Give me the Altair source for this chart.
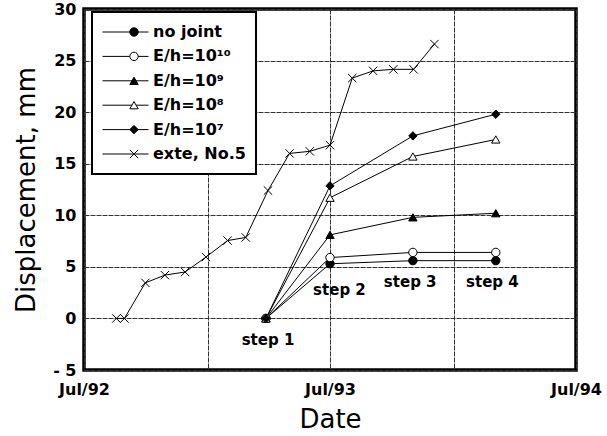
import altair as alt
import pandas as pd

# ---------------- data ----------------
series_names = ["no  joint", "E/h=10¹⁰", "E/h=10⁹", "E/h=10⁸", "E/h=10⁷", "exte, No.5"]
series_shapes = ["circle", "circle", "triangle-up", "triangle-up", "diamond",
                 "M-1,-1L1,1M-1,1L1,-1"]
series_fills = ["black", "white", "black", "white", "black", "black"]
series_sizes = [70, 70, 55, 55, 45, 90]

model_dates = ["1993-03-28", "1993-07-01", "1993-11-01", "1994-03-04"]
no_joint = [0, 5.3, 5.6, 5.6]
eh_1e10 = [0, 5.9, 6.4, 6.4]
eh_1e9 = [0, 8.1, 9.8, 10.2]
eh_1e8 = [0, 11.7, 15.7, 17.35]
eh_1e7 = [0, 12.85, 17.7, 19.8]

exte_dates = ["1992-08-18", "1992-08-30", "1992-09-30", "1992-10-29", "1992-11-28",
              "1992-12-29", "1993-01-30", "1993-02-26", "1993-03-31", "1993-05-02",
              "1993-06-01", "1993-07-01", "1993-08-03", "1993-09-03", "1993-10-03",
              "1993-11-02", "1993-12-03"]
exte_values = [0, 0, 3.45, 4.2, 4.5, 5.95, 7.55, 7.85, 12.4, 16.0, 16.2, 16.8,
               23.3, 24.0, 24.15, 24.15, 26.6]

step_labels = ["step  1", "step  2", "step  3", "step  4"]
step_label_dates = ["1993-03-31", "1993-07-15", "1993-10-28", "1994-02-27"]
step_label_values = [-2.1, 2.8, 3.55, 3.55]

y_ticks = [-5, 0, 5, 10, 15, 20, 25, 30]

# separate keys (same names) so that line legend, marker legend and size scale
# are not merged together by Vega-Lite
line_keys = [n + " " for n in series_names]
size_keys = [n + "  " for n in series_names]

# ---------------- tables ----------------
rows = []
all_vals = [no_joint, eh_1e10, eh_1e9, eh_1e8, eh_1e7]
for i, vals in enumerate(all_vals):
    for d, v in zip(model_dates, vals):
        rows.append({"series": series_names[i], "line_series": line_keys[i],
                     "size_key": size_keys[i], "date": d, "value": v})
for d, v in zip(exte_dates, exte_values):
    rows.append({"series": series_names[5], "line_series": line_keys[5],
                 "size_key": size_keys[5], "date": d, "value": v})
df = pd.DataFrame(rows)
df_steps = pd.DataFrame({"label": step_labels, "date": step_label_dates,
                         "value": step_label_values})

FONT = "DejaVu Sans"

x_enc = alt.X("date:T",
              scale=alt.Scale(type="utc",
                              domain=[alt.DateTime(year=1992, month=7, date=1, utc=True),
                                      alt.DateTime(year=1994, month=7, date=1, utc=True)]),
              axis=alt.Axis(
                  title="Date",
                  values=[alt.DateTime(year=1992, month=7, date=1, utc=True),
                          alt.DateTime(year=1993, month=1, date=1, utc=True),
                          alt.DateTime(year=1993, month=7, date=1, utc=True),
                          alt.DateTime(year=1994, month=1, date=1, utc=True),
                          alt.DateTime(year=1994, month=7, date=1, utc=True)],
                  labelExpr="utcmonth(datum.value) == 6 ? utcFormat(datum.value, '%b/%y') : ''",
                  labelFlush=False, labelOverlap=False, labelPadding=11,
                  titlePadding=9))
y_enc = alt.Y("value:Q",
              scale=alt.Scale(domain=[-5, 30], nice=False, zero=False),
              axis=alt.Axis(title="Displacement, mm", values=y_ticks,
                            labelExpr="datum.value < 0 ? '- ' + abs(datum.value) : datum.value",
                            labelPadding=8, titlePadding=13))

common_legend = dict(orient="none", title=None, clipHeight=20, rowPadding=4.4,
                     padding=10, labelFont=FONT, labelFontSize=16, labelFontWeight="bold")

lines = alt.Chart(df).mark_line(strokeWidth=1).encode(
    x=x_enc, y=y_enc,
    color=alt.Color("line_series:N",
                    scale=alt.Scale(domain=line_keys, range=["black"] * 6),
                    legend=alt.Legend(symbolType="stroke", symbolSize=2116,
                                      symbolStrokeWidth=1, symbolStrokeColor="black",
                                      legendX=8, legendY=3, strokeColor="black",
                                      fillColor="white", zindex=0,
                                      labelColor="transparent", **common_legend)),
    order=alt.Order("date:T"),
)

pt_legend = alt.Legend(legendX=32, legendY=3, symbolSize=70, symbolStrokeColor="black",
                       symbolStrokeWidth=1, labelOffset=11, zindex=1,
                       labelColor="black", **common_legend)
points = alt.Chart(df).mark_point(filled=True, strokeWidth=1, opacity=1).encode(
    x=x_enc, y=y_enc,
    shape=alt.Shape("series:N", scale=alt.Scale(domain=series_names, range=series_shapes),
                    legend=pt_legend),
    fill=alt.Fill("series:N", scale=alt.Scale(domain=series_names, range=series_fills),
                  legend=pt_legend),
    stroke=alt.Stroke("series:N", scale=alt.Scale(domain=series_names, range=["black"] * 6),
                      legend=pt_legend),
    size=alt.Size("size_key:N", scale=alt.Scale(domain=size_keys, range=series_sizes),
                  legend=None),
)

steps = alt.Chart(df_steps).mark_text(font=FONT, fontSize=15, fontWeight="bold",
                                      color="black").encode(
    x="date:T", y="value:Q", text="label:N")

chart = alt.layer(lines, points, steps).properties(
    width=492, height=361,
    autosize=alt.AutoSizeParams(type="none"),
    padding={"left": 84, "top": 9, "right": 31, "bottom": 66},
    background="white",
).configure_view(
    stroke="black", strokeWidth=3.5
).configure_axis(
    grid=True, gridColor="#333", gridDash=[5, 1], gridWidth=1, gridOpacity=1,
    ticks=False, domain=False,
    labelFont=FONT, labelFontSize=16, labelFontWeight="bold", labelColor="black",
    titleFont=FONT, titleFontSize=26, titleFontWeight="normal", titleColor="black",
).configure_legend(strokeWidth=2)

chart.save("out.html", embed_options={"renderer": "svg", "actions": False})
